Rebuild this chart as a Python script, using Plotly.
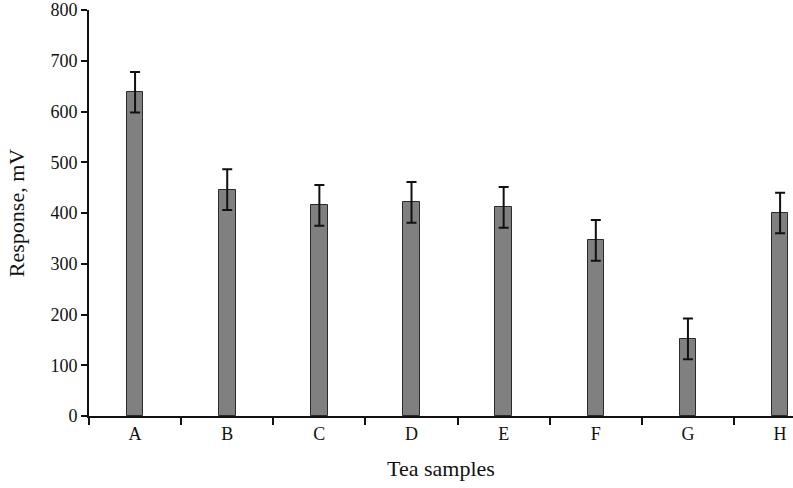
import plotly.graph_objects as go

samples = ['A', 'B', 'C', 'D', 'E', 'F', 'G', 'H']
response = [638, 446, 415, 421, 411, 346, 152, 400]
errors = [40, 40, 40, 40, 40, 40, 40, 40]

fig = go.Figure()
fig.add_trace(go.Bar(
    x=samples, y=response, width=0.18,
    marker=dict(color='#808080', line=dict(color='#2b2b2b', width=1)),
    error_y=dict(type='data', array=errors, color='#111111', thickness=2, width=5),
    cliponaxis=False,
))

serif = 'Liberation Serif, Times New Roman, serif'
fig.update_layout(
    width=793, height=488,
    margin=dict(l=89, r=0, t=10, b=72),
    plot_bgcolor='white', paper_bgcolor='white',
    showlegend=False,
    font=dict(family=serif, size=18, color='#111111'),
    bargap=0,
)
fig.update_xaxes(
    range=[-0.5, 7.14], showline=True, linecolor='#111111', linewidth=2,
    ticks='outside', tickson='boundaries', ticklen=7, tickwidth=2, tickcolor='#111111',
    showgrid=False, automargin=False, ticklabeloverflow='allow',
    title=dict(text='Tea samples', standoff=18),
)
fig.update_yaxes(
    range=[0, 800], dtick=100, showline=True, linecolor='#111111', linewidth=2,
    ticks='outside', ticklen=6, tickwidth=2, tickcolor='#111111',
    showgrid=False, zeroline=False, automargin=False, ticklabeloverflow='allow',
    title=dict(text='Response, mV', standoff=20),
)
# page has a default 8px body margin, drop it so the chart sits at 0,0
fig.write_html('out.html', config={'displayModeBar': False},
               post_script="document.body.style.margin='0';")
